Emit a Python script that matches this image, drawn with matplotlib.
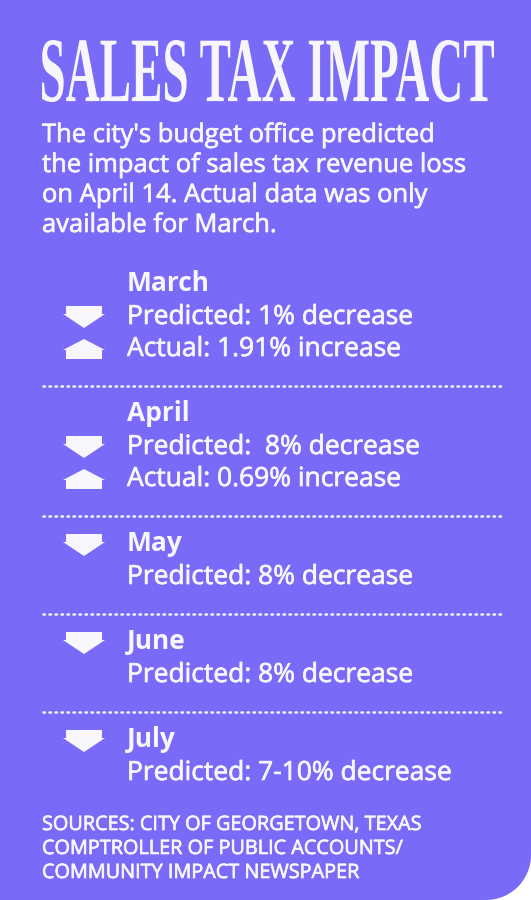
import matplotlib
matplotlib.use("Agg")
import matplotlib.pyplot as plt
import matplotlib.patheffects as pe
from matplotlib.patches import PathPatch, Polygon
from matplotlib.textpath import TextPath
from matplotlib.font_manager import FontProperties
from matplotlib.transforms import Affine2D
import numpy as np

# Contenido
title = "SALES TAX IMPACT"
intro = ["The city's budget office predicted",
         "the impact of sales tax revenue loss",
         "on April 14. Actual data was only",
         "available for March."]
months = ["March", "April", "May", "June", "July"]
predicted = ["Predicted: 1% decrease", "Predicted:  8% decrease",
             "Predicted: 8% decrease", "Predicted: 8% decrease",
             "Predicted: 7-10% decrease"]
actual = ["Actual: 1.91% increase", "Actual: 0.69% increase", None, None, None]
sources = ["SOURCES: CITY OF GEORGETOWN, TEXAS",
           "COMPTROLLER OF PUBLIC ACCOUNTS/",
           "COMMUNITY IMPACT NEWSPAPER"]

bg = "#796bf7"
fg = "#f7f6fc"
sans = "Open Sans"
thick = [pe.withStroke(linewidth=0.5, foreground=fg)]

W, H = 531, 900
fig = plt.figure(figsize=(W / 100, H / 100), dpi=100)
fig.patch.set_facecolor("white")
ax = fig.add_axes([0, 0, 1, 1])
ax.set_xlim(0, W)
ax.set_ylim(H, 0)
ax.axis("off")

# Fondo con esquina inferior derecha redondeada
r = 45
theta = np.linspace(0, np.pi / 2, 30)
arc = [(W - r + r * np.cos(t), H - r + r * np.sin(t)) for t in theta]
verts = [(0, 0), (W, 0)] + arc + [(0, H)]
ax.add_patch(Polygon(verts, closed=True, facecolor=bg, edgecolor="none"))

# Titulo: serif condensada, escalada al recuadro
tp = TextPath((0, 0), title, size=1, prop=FontProperties(family="Liberation Serif", weight="bold"))
ext = tp.get_extents()
x0, x1, top, bottom = 42, 494, 40, 102
sx = (x1 - x0) / ext.width
sy = (bottom - top) / ext.height
tr = Affine2D().translate(-ext.x0, -ext.y0).scale(sx, -sy).translate(x0, bottom)
ax.add_patch(PathPatch(tr.transform_path(tp), facecolor=fg, edgecolor="none"))

# Texto introductorio
for i, line in enumerate(intro):
    ax.text(42, 142 + 30 * i, line, color=fg, fontsize=18.4, family=sans,
            va="baseline", ha="left", path_effects=thick)


def arrow(y_c, up):
    cx = 84
    if up:
        pts = [(cx, y_c - 10), (cx + 21, y_c + 1), (cx + 18, y_c + 1), (cx + 18, y_c + 10),
               (cx - 18, y_c + 10), (cx - 18, y_c + 1), (cx - 21, y_c + 1)]
    else:
        pts = [(cx - 18, y_c - 11), (cx + 18, y_c - 11), (cx + 18, y_c - 3), (cx + 21, y_c - 3),
               (cx, y_c + 11), (cx - 21, y_c - 3), (cx - 18, y_c - 3)]
    ax.add_patch(Polygon(pts, closed=True, facecolor=fg, edgecolor="none"))


fs = 19
y = 291
for i, m in enumerate(months):
    ax.text(127, y, m, color=fg, fontsize=fs, family=sans, weight="bold", va="baseline")
    if actual[i] is None:
        arrow(y - 6, up=False)
    y += 33
    ax.text(127, y, predicted[i], color=fg, fontsize=fs, family=sans, va="baseline",
            path_effects=thick)
    if actual[i] is not None:
        arrow(y - 7, up=False)
        y += 32
        ax.text(127, y, actual[i], color=fg, fontsize=fs, family=sans, va="baseline",
                path_effects=thick)
        arrow(y - 7, up=True)
    if i < len(months) - 1:
        ax.plot([43, 502], [y + 30, y + 30], color=fg, lw=1.8, ls=(0, (0.6, 1.8)),
                solid_capstyle="round", dash_capstyle="round")
        y += 65

# Fuentes
for i, line in enumerate(sources):
    ax.text(42, 830 + 24 * i, line, color=fg, fontsize=14.3, family=sans, va="baseline",
            path_effects=thick)

fig.savefig("out.png", dpi=100, facecolor=fig.get_facecolor())
